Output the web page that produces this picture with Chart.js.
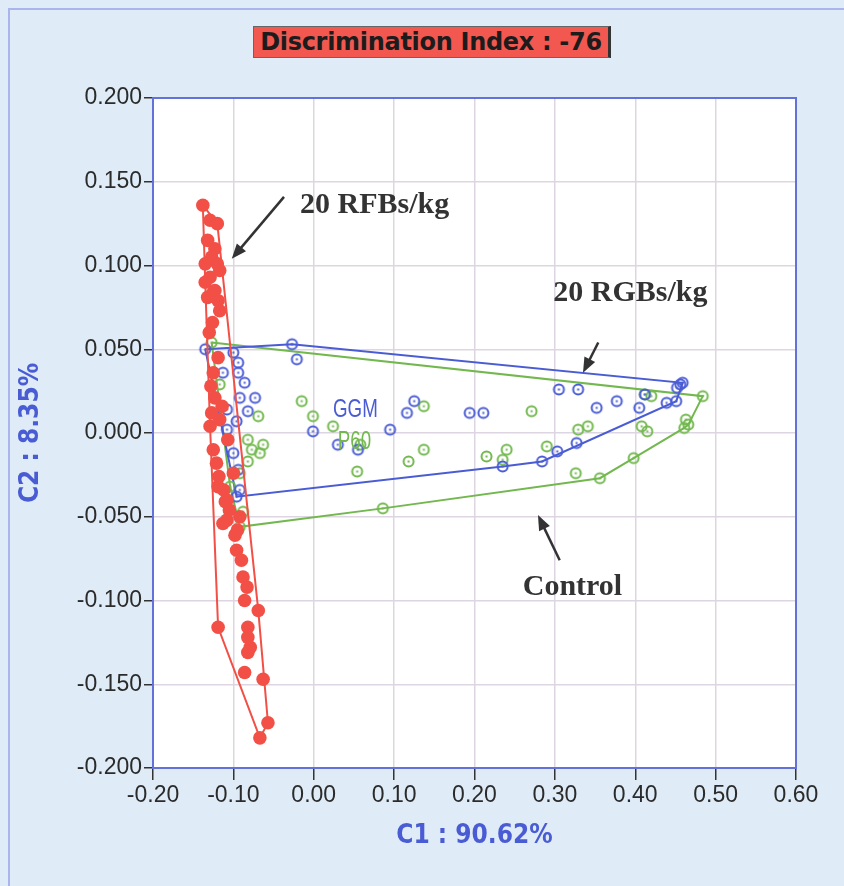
<!DOCTYPE html>
<html>
<head>
<meta charset="utf-8">
<script src="https://cdn.jsdelivr.net/npm/chart.js@4"></script>
<style>
body { margin: 0; background: #dfecf7; }
#wrap { position: relative; width: 844px; height: 886px; overflow: hidden; }
#frame { position: absolute; left: 8px; top: 8px; width: 900px; height: 900px; border-left: 2px solid #a9b5ec; border-top: 2px solid #a9b5ec; }
#title { position: absolute; left: 253px; top: 26px; width: 354px; height: 30px; background: #f2584f;
  border: 1px solid #666; border-right: 3px solid #333; color: #1c1c1c; text-align: center;
  font: bold 24px "DejaVu Sans", sans-serif; line-height: 30px; letter-spacing: -0.3px; }
canvas { position: absolute; left: 0; top: 0; }
</style>
</head>
<body>
<div id="wrap">
  <div id="frame"></div>
  <canvas id="pca" width="844" height="886"></canvas>
  <div id="title">Discrimination Index : -76</div>
</div>
<script>
// 20 RFBs/kg (red)
var redX = [-0.138,-0.129,-0.120,-0.132,-0.123,-0.127,-0.135,-0.120,-0.117,-0.129,-0.135,-0.125,-0.123,-0.132,-0.119,-0.117,
            -0.119,-0.125,-0.123,-0.127,-0.117,-0.129,-0.107,-0.125,-0.100,-0.119,-0.108,-0.110,-0.113,-0.092,-0.108,
            -0.096,-0.088,-0.083,-0.086,-0.069,-0.119,-0.082,-0.082,-0.079,-0.082,-0.086,-0.063,-0.057,-0.067,
            -0.130,-0.128,-0.121,-0.118,-0.112,-0.105,-0.098,-0.095,-0.090,-0.126,-0.114];
var redY = [0.136,0.127,0.125,0.115,0.110,0.105,0.101,0.101,0.097,0.093,0.090,0.084,0.085,0.081,0.079,0.073,
            0.045,0.036,0.021,0.012,0.008,0.004,-0.004,-0.010,-0.024,-0.032,-0.040,-0.041,-0.054,-0.050,-0.052,
            -0.070,-0.086,-0.092,-0.100,-0.106,-0.116,-0.116,-0.122,-0.128,-0.131,-0.143,-0.147,-0.173,-0.182,
            0.060,0.028,-0.018,-0.026,-0.034,-0.046,-0.061,-0.058,-0.076,0.066,0.016];

// 20 RGBs/kg (blue)
var blueX = [-0.135,-0.100,-0.094,-0.094,-0.113,-0.086,-0.073,-0.092,-0.108,-0.082,-0.096,-0.108,-0.107,-0.100,-0.094,-0.092,-0.096,
             -0.027,-0.021,-0.001,0.030,0.055,0.095,0.116,0.125,0.194,0.211,0.235,0.284,0.303,0.327,
             0.305,0.329,0.352,0.377,0.405,0.412,0.439,0.451,0.452,0.456,0.459];
var blueY = [0.050,0.048,0.042,0.036,0.036,0.030,0.021,0.021,0.014,0.013,0.007,0.002,-0.004,-0.012,-0.022,-0.034,-0.038,
             0.053,0.044,0.001,-0.007,-0.010,0.002,0.012,0.019,0.012,0.012,-0.020,-0.017,-0.011,-0.006,
             0.026,0.026,0.015,0.019,0.015,0.023,0.018,0.019,0.027,0.029,0.030];

// Control (green)
var greenX = [-0.127,-0.117,-0.069,-0.063,-0.082,-0.077,-0.067,-0.082,-0.092,-0.104,-0.088,-0.092,
              -0.015,-0.001,0.024,0.054,0.058,0.137,0.137,0.118,0.086,0.215,0.235,0.240,0.271,0.290,
              0.329,0.341,0.326,0.356,0.398,0.408,0.415,0.412,0.420,0.484,0.463,0.461,0.466];
var greenY = [0.054,0.029,0.010,-0.007,-0.004,-0.010,-0.012,-0.017,-0.024,-0.032,-0.047,-0.056,
              0.019,0.010,0.004,-0.023,-0.007,0.016,-0.010,-0.017,-0.045,-0.014,-0.016,-0.010,0.013,-0.008,
              0.002,0.004,-0.024,-0.027,-0.015,0.004,0.001,0.023,0.022,0.022,0.008,0.003,0.005];

var labelText = ['20 RFBs/kg', '20 RGBs/kg', 'Control'];
var labelX = [-0.017, 0.298, 0.260];
var labelY = [0.136, 0.0832, -0.092];
var arrowFrom = [[-0.037, 0.141], [0.354, 0.054], [0.306, -0.076]];
var arrowTo = [[-0.102, 0.104], [0.335, 0.036], [0.279, -0.049]];
var groupText = ['GGM', 'P60'];
var groupX = [0.024, 0.030];
var groupY = [0.0137, -0.0054];

var RED = '#f25046', BLUE = '#4a5cd4', GREEN = '#72b84e';

function pts(xs, ys) {
    return xs.map(function (x, i) { return { x: x, y: ys[i] }; });
}

// convex hull (monotone chain), closed
function hull(p) {
    var s = p.slice().sort(function (a, b) { return a.x - b.x || a.y - b.y; });
    function cross(o, a, b) { return (a.x - o.x) * (b.y - o.y) - (a.y - o.y) * (b.x - o.x); }
    var lo = [], up = [];
    s.forEach(function (q) {
        while (lo.length >= 2 && cross(lo[lo.length - 2], lo[lo.length - 1], q) <= 0) lo.pop();
        lo.push(q);
    });
    s.slice().reverse().forEach(function (q) {
        while (up.length >= 2 && cross(up[up.length - 2], up[up.length - 1], q) <= 0) up.pop();
        up.push(q);
    });
    lo.pop(); up.pop();
    var h = lo.concat(up);
    h.push(h[0]);
    return h;
}

function ring(color) {
    var c = document.createElement('canvas');
    c.width = 15; c.height = 15;
    var g = c.getContext('2d');
    g.strokeStyle = color; g.lineWidth = 2;
    g.beginPath(); g.arc(7.5, 7.5, 5, 0, Math.PI * 2); g.stroke();
    g.fillStyle = color; g.fillRect(6.5, 6.5, 2, 2);
    return c;
}

function fmt(v, d) {
    if (Math.abs(v) < 1e-9) v = 0;
    return v.toFixed(d);
}

var red = pts(redX, redY), blue = pts(blueX, blueY), green = pts(greenX, greenY);

var deco = {
    id: 'deco',
    beforeDraw: function (chart) {
        var a = chart.chartArea, ctx = chart.ctx;
        ctx.save();
        ctx.fillStyle = '#ffffff';
        ctx.fillRect(a.left, a.top, a.right - a.left, a.bottom - a.top);
        ctx.restore();
    },
    afterDraw: function (chart) {
        var a = chart.chartArea, ctx = chart.ctx;
        var sx = chart.scales.x, sy = chart.scales.y;
        ctx.save();
        ctx.strokeStyle = '#6272da';
        ctx.lineWidth = 2;
        ctx.strokeRect(a.left, a.top, a.right - a.left, a.bottom - a.top);

        ctx.fillStyle = '#333';
        ctx.font = 'bold 30px "Liberation Serif", serif';
        ctx.textBaseline = 'middle';
        labelText.forEach(function (t, i) {
            ctx.fillText(t, sx.getPixelForValue(labelX[i]), sy.getPixelForValue(labelY[i]));
        });

        ctx.strokeStyle = '#333';
        ctx.lineWidth = 2.5;
        arrowFrom.forEach(function (f, i) {
            var x0 = sx.getPixelForValue(f[0]), y0 = sy.getPixelForValue(f[1]);
            var x1 = sx.getPixelForValue(arrowTo[i][0]), y1 = sy.getPixelForValue(arrowTo[i][1]);
            var ang = Math.atan2(y1 - y0, x1 - x0);
            ctx.beginPath();
            ctx.moveTo(x0, y0);
            ctx.lineTo(x1 - 10 * Math.cos(ang), y1 - 10 * Math.sin(ang));
            ctx.stroke();
            ctx.beginPath();
            ctx.moveTo(x1, y1);
            ctx.lineTo(x1 - 15 * Math.cos(ang) + 6 * Math.sin(ang), y1 - 15 * Math.sin(ang) - 6 * Math.cos(ang));
            ctx.lineTo(x1 - 15 * Math.cos(ang) - 6 * Math.sin(ang), y1 - 15 * Math.sin(ang) + 6 * Math.cos(ang));
            ctx.closePath();
            ctx.fillStyle = '#333';
            ctx.fill();
        });

        // condensed group labels
        ctx.font = '25px "Liberation Sans", sans-serif';
        groupText.forEach(function (t, i) {
            var px = sx.getPixelForValue(groupX[i]), py = sy.getPixelForValue(groupY[i]);
            ctx.save();
            ctx.translate(px, py);
            ctx.scale(0.75, 1);
            ctx.fillStyle = i === 0 ? BLUE : GREEN;
            ctx.fillText(t, 0, 0);
            ctx.restore();
        });
        ctx.restore();
    }
};

var tickFont = { family: '"Liberation Sans", Arial, sans-serif', size: 23 };
var titleFont = { family: '"Liberation Sans Narrow", "DejaVu Sans Condensed", "Liberation Sans", sans-serif', size: 26, weight: 'bold' };

new Chart(document.getElementById('pca').getContext('2d'), {
    type: 'scatter',
    data: {
        datasets: [
            { label: 'RFB', data: red, order: 1, pointStyle: 'circle', pointRadius: 6.8, backgroundColor: RED, borderWidth: 0 },
            { label: 'RFB hull', data: hull(red), order: 2, showLine: true, pointRadius: 0, borderColor: RED, borderWidth: 2, fill: false },
            { label: 'RGB', data: blue, order: 3, pointStyle: ring(BLUE), pointRadius: 6, borderWidth: 0 },
            { label: 'Control', data: green, order: 4, pointStyle: ring(GREEN), pointRadius: 6, borderWidth: 0 },
            { label: 'RGB hull', data: hull(blue), order: 5, showLine: true, pointRadius: 0, borderColor: BLUE, borderWidth: 2, fill: false },
            { label: 'Control hull', data: hull(green), order: 6, showLine: true, pointRadius: 0, borderColor: GREEN, borderWidth: 2, fill: false }
        ]
    },
    options: {
        responsive: false,
        animation: false,
        layout: { padding: { left: 0, top: 98, right: 48, bottom: 0 } },
        plugins: { legend: { display: false }, tooltip: { enabled: false } },
        scales: {
            x: {
                type: 'linear', min: -0.2, max: 0.6,
                afterFit: function (s) { s.height = 118; },
                ticks: { stepSize: 0.1, color: '#2b2b2b', font: tickFont, padding: 2, callback: function (v) { return fmt(v, 2); } },
                grid: { color: '#ddd5e2', lineWidth: 1.5, tickColor: '#333', tickLength: 12, tickWidth: 1.5 },
                border: { display: false },
                title: { display: true, text: 'C1 : 90.62%', color: BLUE, font: titleFont, padding: { top: 0, bottom: 34 } }
            },
            y: {
                type: 'linear', min: -0.2, max: 0.2,
                afterFit: function (s) { s.width = 153; },
                ticks: { stepSize: 0.05, color: '#2b2b2b', font: tickFont, padding: 2, callback: function (v) { return fmt(v, 3); } },
                grid: { color: '#ddd5e2', lineWidth: 1.5, tickColor: '#333', tickLength: 9, tickWidth: 1.5 },
                border: { display: false },
                title: { display: true, text: 'C2 : 8.35%', color: BLUE, font: titleFont, padding: { top: 16, bottom: 0 } }
            }
        }
    },
    plugins: [deco]
});
</script>
</body>
</html>
